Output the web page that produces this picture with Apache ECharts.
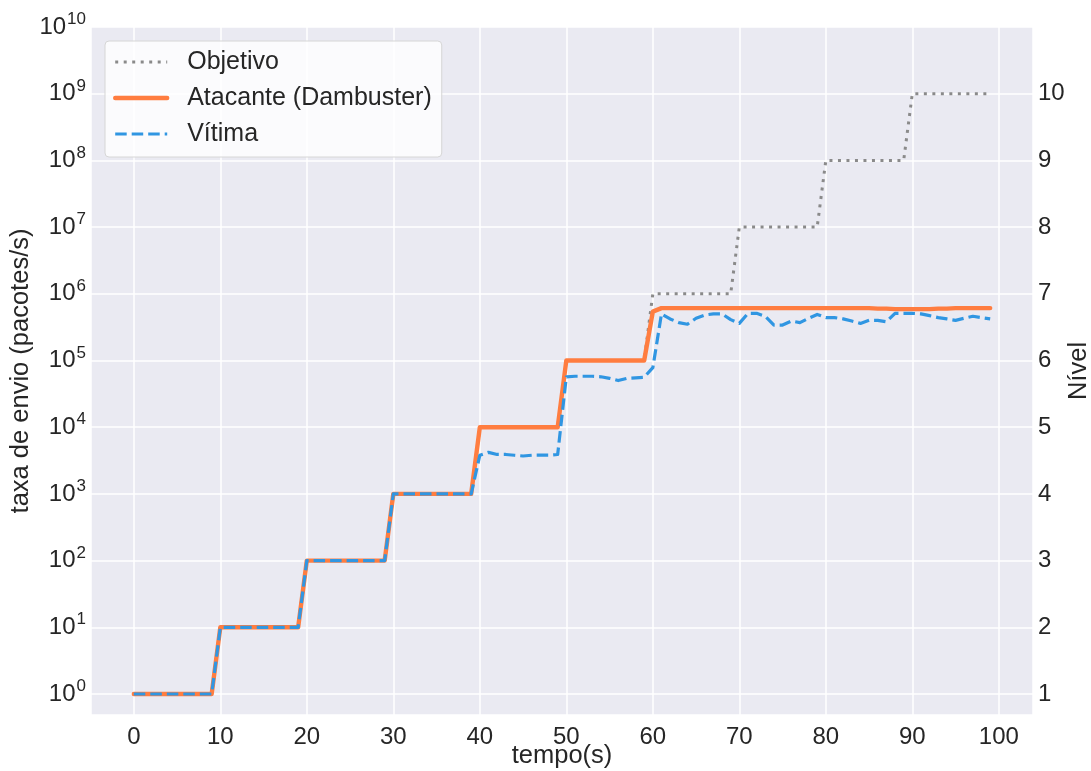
<!DOCTYPE html>
<html>
<head>
<meta charset="utf-8">
<script src="https://cdn.jsdelivr.net/npm/echarts@6/dist/echarts.min.js"></script>
<style>
  html, body { margin: 0; padding: 0; background: #ffffff; }
  #chart { width: 1091px; height: 771px; }
</style>
</head>
<body>
<div id="chart"></div>
<script>
// time axis (seconds)
const tempo = [
  0, 1, 2, 3, 4, 5, 6, 7, 8, 9,
  10, 11, 12, 13, 14, 15, 16, 17, 18, 19,
  20, 21, 22, 23, 24, 25, 26, 27, 28, 29,
  30, 31, 32, 33, 34, 35, 36, 37, 38, 39,
  40, 41, 42, 43, 44, 45, 46, 47, 48, 49,
  50, 51, 52, 53, 54, 55, 56, 57, 58, 59,
  60, 61, 62, 63, 64, 65, 66, 67, 68, 69,
  70, 71, 72, 73, 74, 75, 76, 77, 78, 79,
  80, 81, 82, 83, 84, 85, 86, 87, 88, 89,
  90, 91, 92, 93, 94, 95, 96, 97, 98, 99
];

// target sending rate (packets/s), one level per 10 s
const objetivo = [
  1, 1, 1, 1, 1, 1, 1, 1, 1, 1,
  1e1, 1e1, 1e1, 1e1, 1e1, 1e1, 1e1, 1e1, 1e1, 1e1,
  1e2, 1e2, 1e2, 1e2, 1e2, 1e2, 1e2, 1e2, 1e2, 1e2,
  1e3, 1e3, 1e3, 1e3, 1e3, 1e3, 1e3, 1e3, 1e3, 1e3,
  1e4, 1e4, 1e4, 1e4, 1e4, 1e4, 1e4, 1e4, 1e4, 1e4,
  1e5, 1e5, 1e5, 1e5, 1e5, 1e5, 1e5, 1e5, 1e5, 1e5,
  1e6, 1e6, 1e6, 1e6, 1e6, 1e6, 1e6, 1e6, 1e6, 1e6,
  1e7, 1e7, 1e7, 1e7, 1e7, 1e7, 1e7, 1e7, 1e7, 1e7,
  1e8, 1e8, 1e8, 1e8, 1e8, 1e8, 1e8, 1e8, 1e8, 1e8,
  1e9, 1e9, 1e9, 1e9, 1e9, 1e9, 1e9, 1e9, 1e9, 1e9
];

// attacker (Dambuster) sending rate
const atacante = [
  1, 1, 1, 1, 1, 1, 1, 1, 1, 1,
  1e1, 1e1, 1e1, 1e1, 1e1, 1e1, 1e1, 1e1, 1e1, 1e1,
  1e2, 1e2, 1e2, 1e2, 1e2, 1e2, 1e2, 1e2, 1e2, 1e2,
  1e3, 1e3, 1e3, 1e3, 1e3, 1e3, 1e3, 1e3, 1e3, 1e3,
  1e4, 1e4, 1e4, 1e4, 1e4, 1e4, 1e4, 1e4, 1e4, 1e4,
  1e5, 1e5, 1e5, 1e5, 1e5, 1e5, 1e5, 1e5, 1e5, 1e5,
  5.4e5, 6.1e5, 6.1e5, 6.1e5, 6.1e5, 6.1e5, 6.1e5, 6.1e5, 6.1e5, 6.1e5,
  6.1e5, 6.1e5, 6.1e5, 6.1e5, 6.1e5, 6.1e5, 6.1e5, 6.1e5, 6.1e5, 6.1e5,
  6.1e5, 6.1e5, 6.1e5, 6.1e5, 6.1e5, 6.1e5, 6.0e5, 6.0e5, 5.9e5, 5.9e5,
  5.9e5, 5.9e5, 5.9e5, 6.0e5, 6.0e5, 6.1e5, 6.1e5, 6.1e5, 6.1e5, 6.1e5
];

// victim receiving rate
const vitima = [
  1, 1, 1, 1, 1, 1, 1, 1, 1, 1,
  1e1, 1e1, 1e1, 1e1, 1e1, 1e1, 1e1, 1e1, 1e1, 1e1,
  1e2, 1e2, 1e2, 1e2, 1e2, 1e2, 1e2, 1e2, 1e2, 1e2,
  1e3, 1e3, 1e3, 1e3, 1e3, 1e3, 1e3, 1e3, 1e3, 1e3,
  3.8e3, 4.2e3, 3.9e3, 3.9e3, 3.8e3, 3.7e3, 3.8e3, 3.8e3, 3.8e3, 3.9e3,
  5.7e4, 5.8e4, 5.8e4, 5.8e4, 5.7e4, 5.4e4, 5.0e4, 5.4e4, 5.5e4, 5.6e4,
  7.8e4, 5.0e5, 4.2e5, 3.7e5, 3.5e5, 4.3e5, 4.8e5, 5.0e5, 5.0e5, 4.1e5,
  3.6e5, 5.1e5, 5.1e5, 4.6e5, 3.4e5, 3.4e5, 3.9e5, 3.7e5, 4.3e5, 4.9e5,
  4.4e5, 4.4e5, 4.2e5, 3.9e5, 3.6e5, 4.0e5, 4.0e5, 3.8e5, 5.1e5, 5.1e5,
  5.1e5, 5.0e5, 4.7e5, 4.4e5, 4.2e5, 4.0e5, 4.3e5, 4.6e5, 4.4e5, 4.2e5
];

// tick labels
const ticksTempo = [0, 10, 20, 30, 40, 50, 60, 70, 80, 90, 100];
const ticksTaxa = [1, 1e1, 1e2, 1e3, 1e4, 1e5, 1e6, 1e7, 1e8, 1e9, 1e10];
const ticksNivel = [1, 2, 3, 4, 5, 6, 7, 8, 9, 10];

const FONT = '"Liberation Sans", Arial, "DejaVu Sans", sans-serif';
const INK = '#262626';
const NONE = 'rgba(0,0,0,0)';

const GREY = '#8a8a8a';
const ORANGE = '#ff7d40';
const BLUE = '#3096e2';

const estiloObjetivo = { color: GREY, width: 3, type: [3, 5.5], cap: 'butt' };
const estiloAtacante = { color: ORANGE, width: 4.4, type: 'solid', cap: 'round', join: 'round' };
const estiloVitima = { color: BLUE, width: 3.2, type: [11.5, 5], cap: 'butt', join: 'round' };

const pares = (ys) => tempo.map((t, i) => [t, ys[i]]);

const chart = echarts.init(document.getElementById('chart'), null, { renderer: 'canvas' });

chart.setOption({
  animation: false,
  backgroundColor: '#ffffff',
  textStyle: { fontFamily: FONT, color: INK },
  grid: {
    left: 91, top: 27, right: 58, bottom: 56,
    show: true, backgroundColor: '#EAEAF2', borderWidth: 0,
    containLabel: false, outerBoundsMode: 'none'
  },
  legend: {
    left: 105, top: 41, orient: 'vertical',
    backgroundColor: 'rgba(255,255,255,0.8)',
    borderColor: '#d6d6d6', borderWidth: 1, borderRadius: 4,
    padding: [8, 10, 10, 8],
    itemWidth: 52, itemHeight: 14, itemGap: 10,
    itemStyle: { color: NONE, borderColor: NONE, borderWidth: 0 },
    textStyle: { fontFamily: FONT, fontSize: 25, color: INK, lineHeight: 26, padding: [0, 0, 0, 15] },
    data: [
      { name: 'Objetivo', lineStyle: estiloObjetivo },
      { name: 'Atacante (Dambuster)', lineStyle: estiloAtacante },
      { name: 'Vítima', lineStyle: estiloVitima }
    ]
  },
  xAxis: {
    type: 'value', min: -4.95, max: 103.95, splitNumber: 11,
    name: 'tempo(s)', nameLocation: 'middle', nameGap: 28, nameMoveOverlap: false,
    nameTextStyle: { fontFamily: FONT, fontSize: 25.5, color: INK },
    axisLine: { show: false }, axisTick: { show: false },
    axisLabel: { customValues: ticksTempo, fontFamily: FONT, fontSize: 24, color: INK, margin: 10 },
    splitLine: { show: true, lineStyle: { color: '#ffffff', width: 1.5 } }
  },
  yAxis: [
    {
      type: 'log', logBase: 10, min: Math.pow(10, -0.315), max: 1e10, position: 'left',
      name: 'taxa de envio (pacotes/s)', nameLocation: 'middle', nameGap: 57, nameMoveOverlap: false,
      nameTextStyle: { fontFamily: FONT, fontSize: 25.5, color: INK },
      axisLine: { show: false }, axisTick: { show: false },
      splitLine: { show: false },
      axisLabel: {
        customValues: ticksTaxa, margin: 5,
        formatter: (v) => '{b|10}{s|' + Math.round(Math.log10(v)) + '}',
        rich: {
          b: { fontFamily: FONT, fontSize: 24, color: INK },
          s: { fontFamily: FONT, fontSize: 17, color: INK, padding: [0, 0, 15, 1] }
        }
      }
    },
    {
      type: 'value', min: 0.685, max: 11, splitNumber: 10, position: 'right',
      name: 'Nível', nameLocation: 'middle', nameGap: 33, nameRotate: 90, nameMoveOverlap: false,
      nameTextStyle: { fontFamily: FONT, fontSize: 25.5, color: INK },
      axisLine: { show: false }, axisTick: { show: false },
      axisLabel: { customValues: ticksNivel, fontFamily: FONT, fontSize: 24, color: INK, margin: 5 },
      splitLine: { show: true, lineStyle: { color: '#ffffff', width: 1.5 } }
    }
  ],
  series: [
    {
      name: 'Objetivo', type: 'line', yAxisIndex: 0, data: pares(objetivo),
      showSymbol: false, symbol: 'none',
      lineStyle: estiloObjetivo, itemStyle: { color: GREY }
    },
    {
      name: 'Atacante (Dambuster)', type: 'line', yAxisIndex: 0, data: pares(atacante),
      showSymbol: false, symbol: 'none',
      lineStyle: estiloAtacante, itemStyle: { color: ORANGE }
    },
    {
      name: 'Vítima', type: 'line', yAxisIndex: 0, data: pares(vitima),
      showSymbol: false, symbol: 'none',
      lineStyle: estiloVitima, itemStyle: { color: BLUE }
    }
  ]
});
</script>
</body>
</html>
